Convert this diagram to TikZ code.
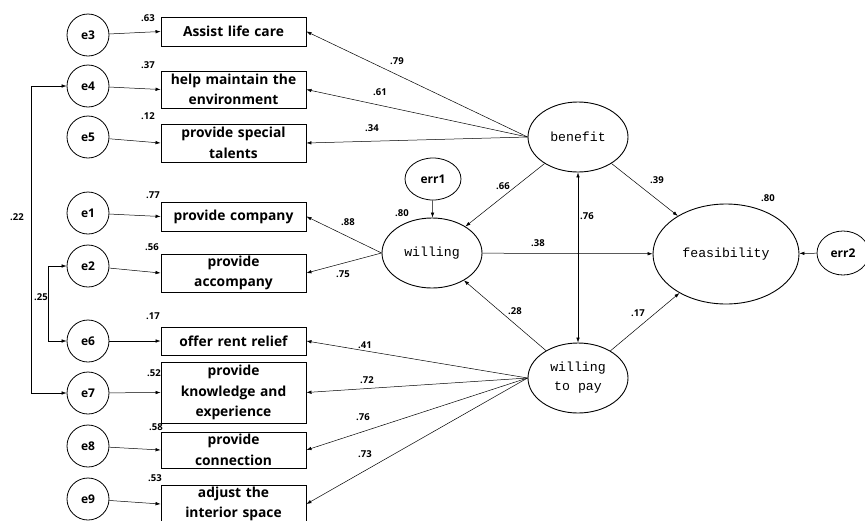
\documentclass[tikz,border=0pt]{standalone}
\usepackage{fontspec}
\setmainfont{Open Sans}
\newfontfamily\latfont{Liberation Mono}
\usetikzlibrary{shapes.geometric,arrows.meta}
\begin{document}
\begin{tikzpicture}[x=1pt,y=-1pt,
 obs/.style={draw, line width=0.9pt, minimum width=145pt, text width=145pt, inner sep=0pt, align=center, font=\bfseries\fontsize{13.8}{20.5}\selectfont},
 errc/.style={draw, circle, line width=0.8pt, minimum size=42pt, inner sep=0pt, font=\bfseries\fontsize{12}{13}\selectfont},
 lat/.style={draw, ellipse, line width=0.9pt, inner sep=0pt, align=center, font=\latfont\fontsize{13.2}{19}\selectfont},
 lbl/.style={font=\bfseries\fontsize{9.5}{11}\selectfont, inner sep=0pt},
 arr/.style={-{Latex[length=5pt,width=3.5pt]}, line width=0.5pt},
 darr/.style={{Latex[length=5pt,width=3.5pt]}-{Latex[length=5pt,width=3.5pt]}, line width=0.5pt}]
\useasboundingbox (0,0) rectangle (865,520);
\clip (0,0) rectangle (865,520);

% observed boxes
\node[obs, minimum height=29pt] (b1) at (233.5,31.5) {Assist life care};
\node[obs, minimum height=37pt] (b2) at (233.5,89.5) {help maintain the\\environment};
\node[obs, minimum height=38pt] (b3) at (233.5,143) {provide special\\talents};
\node[obs, minimum height=29pt] (b4) at (233.5,216.5) {provide company};
\node[obs, minimum height=38pt] (b5) at (233.5,273) {provide\\accompany};
\node[obs, minimum height=28pt] (b6) at (233.5,341) {offer rent relief};
\node[obs, minimum height=61pt] (b7) at (233.5,392.5) {provide\\knowledge and\\experience};
\node[obs, minimum height=36pt] (b8) at (233.5,450) {provide\\connection};
\node[obs, minimum height=38pt] (b9) at (233.5,504) {adjust the\\interior space};

% error circles
\node[errc] (e3) at (88,35) {e3};
\node[errc] (e4) at (88,86) {e4};
\node[errc] (e5) at (88,137) {e5};
\node[errc] (e1) at (88,213) {e1};
\node[errc] (e2) at (88,266) {e2};
\node[errc] (e6) at (88,341) {e6};
\node[errc] (e7) at (88,393) {e7};
\node[errc] (e8) at (88,446) {e8};
\node[errc] (e9) at (88,499) {e9};

% latent variables
\node[lat, minimum width=100pt, minimum height=70pt] (ben) at (578,137) {benefit};
\node[lat, minimum width=100pt, minimum height=70pt] (wil) at (432,253) {willing};
\node[lat, minimum width=100pt, minimum height=70pt] (wtp) at (578,378) {willing\\to pay};
\node[lat, minimum width=146pt, minimum height=100pt] (fea) at (726,254) {feasibility};
\node[draw, ellipse, line width=0.8pt, minimum width=56pt, minimum height=42pt, inner sep=0pt, font=\bfseries\fontsize{12}{13}\selectfont] (err1) at (433,179) {err1};
\node[draw, ellipse, line width=0.8pt, minimum width=52pt, minimum height=44pt, inner sep=0pt, font=\bfseries\fontsize{12}{13}\selectfont] (err2) at (843,253) {err2};

% error arrows
\foreach \e/\b in {e3/b1,e4/b2,e5/b3,e1/b4,e2/b5,e6/b6,e7/b7,e8/b8,e9/b9}
  \draw[arr] (\e) -- (\b.west);

% loadings
\foreach \b in {b1,b2,b3} \draw[arr] (ben.west) -- (\b.east);
\foreach \b in {b4,b5} \draw[arr] (wil.west) -- (\b.east);
\foreach \b in {b6,b7,b8,b9} \draw[arr] (wtp.west) -- (\b.east);

% structural paths
\draw[arr] (ben) -- (wil);
\draw[arr] (wtp) -- (wil);
\draw[arr] (ben) -- (fea);
\draw[arr] (wtp) -- (fea);
\draw[arr] (wil) -- (fea);
\draw[darr] (ben) -- (wtp);
\draw[arr] (err1) -- (wil);
\draw[arr] (err2) -- (fea);

% covariances
\draw[darr] (e4.west) -- ++(-35,0) |- (e7.west);
\draw[darr] (e2.west) -- ++(-18,0) |- (e6.west);

% labels
\node[lbl] at (148,18) {.63};
\node[lbl] at (148,65) {.37};
\node[lbl] at (148,116) {.12};
\node[lbl] at (153,195) {.77};
\node[lbl] at (152,247) {.56};
\node[lbl] at (153,316) {.17};
\node[lbl] at (154,373) {.52};
\node[lbl] at (156,427) {.58};
\node[lbl] at (155,478) {.53};
\node[lbl] at (17,217) {.22};
\node[lbl] at (41,297) {.25};
\node[lbl] at (397,61) {.79};
\node[lbl] at (380,92) {.61};
\node[lbl] at (372,128) {.34};
\node[lbl] at (503,186) {.66};
\node[lbl] at (402,213) {.80};
\node[lbl] at (348,222) {.88};
\node[lbl] at (343,274) {.75};
\node[lbl] at (587,216) {.76};
\node[lbl] at (538,243) {.38};
\node[lbl] at (515,311) {.28};
\node[lbl] at (365,345) {.41};
\node[lbl] at (367,380) {.72};
\node[lbl] at (363,417) {.76};
\node[lbl] at (365,454) {.73};
\node[lbl] at (657,180) {.39};
\node[lbl] at (768,198) {.80};
\node[lbl] at (638,313) {.17};
\end{tikzpicture}
\end{document}
